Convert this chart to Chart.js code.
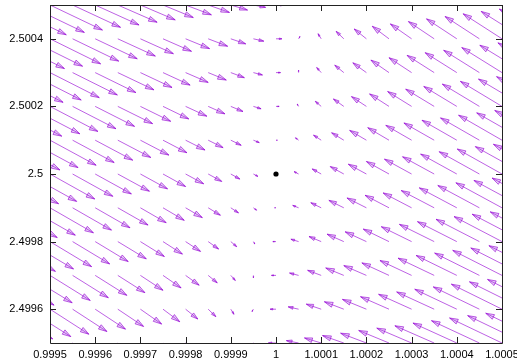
<!DOCTYPE html>
<html>
<head>
<meta charset="utf-8">
<script src="https://cdn.jsdelivr.net/npm/chart.js@4.4.1/dist/chart.umd.min.js"></script>
<style>
  html, body { margin: 0; padding: 0; background: #fff; }
  #wrap { width: 517px; height: 364px; }
</style>
</head>
<body>
<div id="wrap"><canvas id="vecChart" width="517" height="364"></canvas></div>
<script>
// Gitterpunkte (Pfeilanfang)
const colX = [0.9994, 0.99945, 0.9995, 0.99955, 0.9996, 0.99965, 0.9997, 0.99975, 0.9998, 0.99985,
              0.9999, 0.99995, 1.0, 1.00005, 1.0001, 1.00015, 1.0002, 1.00025, 1.0003, 1.00035,
              1.0004, 1.00045, 1.0005, 1.00055, 1.0006];
const rowY = [2.5005, 2.5004, 2.5003, 2.5002, 2.5001, 2.5, 2.4999, 2.4998, 2.4997, 2.4996, 2.4995];

// Pfeilkomponenten in x-Richtung (Einheit 1e-6), eine Zeile pro rowY
const U = [
  [136, 126, 116, 106, 97, 87, 77, 67, 57, 47, 37, 27, 17, 7, -3, -13, -23, -33, -43, -53, -63, -72, -82, -92, -102],
  [132, 122, 112, 102, 93, 83, 73, 63, 53, 43, 33, 23, 13, 3, -7, -17, -27, -37, -47, -57, -67, -76, -86, -96, -106],
  [129, 119, 109, 99, 90, 80, 70, 60, 50, 40, 30, 20, 10, 0, -10, -20, -30, -40, -50, -60, -70, -79, -89, -99, -109],
  [126, 116, 106, 96, 87, 77, 67, 57, 47, 37, 27, 17, 7, -3, -13, -23, -33, -43, -53, -63, -73, -82, -92, -102, -112],
  [122, 112, 102, 92, 83, 73, 63, 53, 43, 33, 23, 13, 3, -7, -17, -27, -37, -47, -57, -67, -77, -86, -96, -106, -116],
  [119, 109, 99, 89, 80, 70, 60, 50, 40, 30, 20, 10, 0, -10, -20, -30, -40, -50, -60, -70, -80, -89, -99, -109, -119],
  [116, 106, 96, 86, 77, 67, 57, 47, 37, 27, 17, 7, -3, -13, -23, -33, -43, -53, -63, -73, -83, -92, -102, -112, -122],
  [112, 102, 92, 82, 73, 63, 53, 43, 33, 23, 13, 3, -7, -17, -27, -37, -47, -57, -67, -77, -87, -96, -106, -116, -126],
  [109, 99, 89, 79, 70, 60, 50, 40, 30, 20, 10, 0, -10, -20, -30, -40, -50, -60, -70, -80, -90, -99, -109, -119, -129],
  [106, 96, 86, 76, 67, 57, 47, 37, 27, 17, 7, -3, -13, -23, -33, -43, -53, -63, -73, -83, -93, -102, -112, -122, -132],
  [102, 92, 82, 72, 63, 53, 43, 33, 23, 13, 3, -7, -17, -27, -37, -47, -57, -67, -77, -87, -97, -106, -116, -126, -136]
];
// Pfeilkomponenten in y-Richtung (Einheit 1e-6), pro Spalte (in allen Zeilen gleich)
const V = [-88, -81, -74, -66, -59, -51, -44, -37, -29, -22, -15, -7, 0, 7, 15, 22, 29, 37, 44, 51, 59, 66, 74, 81, 88];

// Gleichgewichtspunkt
const fixX = [1.0];
const fixY = [2.5];

// Achsenbeschriftung
const xTickValues = [0.9995, 0.9996, 0.9997, 0.9998, 0.9999, 1.0, 1.0001, 1.0002, 1.0003, 1.0004, 1.0005];
const xTickLabels = ['0.9995', '0.9996', '0.9997', '0.9998', '0.9999', '1', '1.0001', '1.0002', '1.0003', '1.0004', '1.0005'];
const yTickValues = [2.4996, 2.4998, 2.5, 2.5002, 2.5004];
const yTickLabels = ['2.4996', '2.4998', '2.5', '2.5002', '2.5004'];

// Datenpunkte aufbauen
const arrowData = [];
rowY.forEach((y, r) => {
    colX.forEach((x, c) => {
        arrowData.push({ x: x, y: y, u: U[r][c] * 1e-6, v: V[c] * 1e-6 });
    });
});

const arrowColor = 'rgba(148, 0, 211, 0.62)';
const headFill = 'rgba(160, 60, 225, 0.25)';

function drawArrow(ctx, x0, y0, x1, y1) {
    const dx = x1 - x0, dy = y1 - y0;
    const len = Math.hypot(dx, dy);
    if (len < 0.6) return;
    const ux = dx / len, uy = dy / len;
    const hl = Math.min(8.5, len * 0.45);
    const hw = hl * 0.3;
    ctx.beginPath();
    ctx.moveTo(x0, y0);
    ctx.lineTo(x1, y1);
    ctx.stroke();
    const bx = x1 - ux * hl, by = y1 - uy * hl;
    ctx.beginPath();
    ctx.moveTo(bx - uy * hw, by + ux * hw);
    ctx.lineTo(x1, y1);
    ctx.lineTo(bx + uy * hw, by - ux * hw);
    ctx.closePath();
    ctx.fill();
    ctx.stroke();
}

// Pfeile unter den Punkten zeichnen
const arrowPlugin = {
    id: 'arrows',
    beforeDatasetsDraw(chart) {
        const ctx = chart.ctx;
        const area = chart.chartArea;
        const xs = chart.scales.x, ys = chart.scales.y;
        const meta = chart.getDatasetMeta(0);
        ctx.save();
        ctx.beginPath();
        ctx.rect(area.left, area.top, area.right - area.left, area.bottom - area.top);
        ctx.clip();
        ctx.strokeStyle = arrowColor;
        ctx.fillStyle = headFill;
        ctx.lineWidth = 1;
        meta.data.forEach((pt, i) => {
            const d = arrowData[i];
            const x1 = xs.getPixelForValue(d.x + d.u);
            const y1 = ys.getPixelForValue(d.y + d.v);
            drawArrow(ctx, pt.x, pt.y, x1, y1);
        });
        ctx.restore();
    }
};

// Rahmen mit nach innen zeigenden Ticks (gnuplot-Stil)
const framePlugin = {
    id: 'frame',
    afterDraw(chart) {
        const ctx = chart.ctx;
        const a = chart.chartArea;
        const xs = chart.scales.x, ys = chart.scales.y;
        const t = 6;
        ctx.save();
        ctx.strokeStyle = '#222';
        ctx.lineWidth = 1;
        ctx.beginPath();
        ctx.rect(Math.round(a.left) + 0.5, Math.round(a.top) + 0.5,
                 Math.round(a.right - a.left), Math.round(a.bottom - a.top));
        xTickValues.forEach(v => {
            const px = Math.round(xs.getPixelForValue(v)) + 0.5;
            ctx.moveTo(px, a.bottom); ctx.lineTo(px, a.bottom - t);
            ctx.moveTo(px, a.top); ctx.lineTo(px, a.top + t);
        });
        yTickValues.forEach(v => {
            const py = Math.round(ys.getPixelForValue(v)) + 0.5;
            ctx.moveTo(a.left, py); ctx.lineTo(a.left + t, py);
            ctx.moveTo(a.right, py); ctx.lineTo(a.right - t, py);
        });
        ctx.stroke();
        ctx.restore();
    }
};

const tickFont = { family: "'Liberation Sans', Arial, Helvetica, sans-serif", size: 11 };

const config = {
    type: 'scatter',
    data: {
        datasets: [
            {
                label: 'Feld',
                data: arrowData,
                pointRadius: 0,
                pointHoverRadius: 0,
                showLine: false
            },
            {
                label: 'Fixpunkt',
                data: fixX.map((x, i) => ({ x: x, y: fixY[i] })),
                pointRadius: 2.6,
                pointBackgroundColor: '#000',
                pointBorderColor: '#000',
                pointBorderWidth: 0
            }
        ]
    },
    options: {
        responsive: false,
        animation: false,
        devicePixelRatio: 1,
        layout: { padding: { left: 0, right: 15, top: 5, bottom: 0 } },
        plugins: {
            legend: { display: false },
            tooltip: { enabled: false }
        },
        scales: {
            x: {
                type: 'linear',
                min: 0.9995,
                max: 1.0005,
                grid: { display: false, drawTicks: false },
                border: { display: false },
                afterBuildTicks: s => { s.ticks = xTickValues.map(v => ({ value: v })); },
                afterFit: s => { s.height = 21; s.paddingLeft = 0; s.paddingRight = 0; },
                ticks: {
                    autoSkip: false,
                    maxRotation: 0,
                    padding: 5,
                    color: '#000',
                    font: tickFont,
                    callback: (v, i) => xTickLabels[i]
                }
            },
            y: {
                type: 'linear',
                min: 2.4995,
                max: 2.5005,
                grid: { display: false, drawTicks: false },
                border: { display: false },
                afterBuildTicks: s => { s.ticks = yTickValues.map(v => ({ value: v })); },
                afterFit: s => { s.width = 50; s.paddingTop = 0; s.paddingBottom = 0; },
                ticks: {
                    autoSkip: false,
                    padding: 7,
                    color: '#000',
                    font: tickFont,
                    callback: (v, i) => yTickLabels[i]
                }
            }
        }
    },
    plugins: [arrowPlugin, framePlugin]
};

new Chart(document.getElementById('vecChart'), config);
</script>
</body>
</html>
